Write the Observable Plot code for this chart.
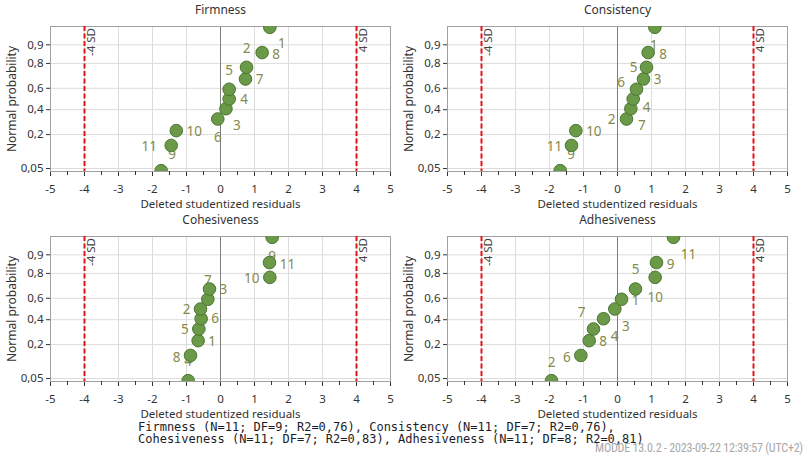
<!DOCTYPE html>
<html>
<head>
<meta charset="utf-8">
<script src="https://cdn.jsdelivr.net/npm/d3@7"></script>
<script src="https://cdn.jsdelivr.net/npm/@observablehq/plot@0.6"></script>
<style>
  html, body { margin: 0; padding: 0; background: #fff; }
  #root { position: relative; width: 807px; height: 462px; overflow: hidden; background: #fff; }
  .panel { position: absolute; }
  #caption { position: absolute; left: 138px; top: 421px; font-family: "DejaVu Sans Mono", "Liberation Mono", monospace; font-size: 12px; line-height: 12px; color: #1c1c28; white-space: pre; }
  #footer { position: absolute; right: 4px; top: 441px; font-family: "Liberation Sans Narrow", "Roboto Condensed", "Liberation Sans", sans-serif; font-size: 12px; color: #a8a8a8; white-space: pre; letter-spacing: -0.2px; }
</style>
</head>
<body>
<div id="root"></div>
<script>
// ---------- data ----------
const panelNames = ["Firmness", "Consistency", "Cohesiveness", "Adhesiveness"];
const panelN  = [11, 11, 11, 11];
const panelDF = [9, 7, 7, 8];
const panelR2 = ["0,76", "0,76", "0,83", "0,81"];

// normal-probability plotting positions (ranks 1..11, ascending)
const probs = [0.045, 0.136, 0.227, 0.318, 0.409, 0.5, 0.591, 0.682, 0.773, 0.864, 0.955];

// deleted studentized residuals, in rank order
const firmnessRes     = [-1.745, -1.45, -1.30, -0.08, 0.16, 0.255, 0.255, 0.735, 0.765, 1.225, 1.45];
const consistencyRes  = [-1.686, -1.353, -1.225, 0.265, 0.392, 0.461, 0.559, 0.765, 0.853, 0.902, 1.098];
const cohesivenessRes = [-0.951, -0.882, -0.657, -0.637, -0.569, -0.588, -0.373, -0.324, 1.451, 1.441, 1.520];
const adhesivenessRes = [-1.941, -1.078, -0.833, -0.706, -0.412, -0.078, 0.118, 0.529, 1.108, 1.147, 1.647];

// run-number labels, in rank order
const firmnessLab     = ["9", "11", "10", "6", "3", "4", "5", "7", "2", "8", "1"];
const consistencyLab  = ["9", "11", "10", "2", "7", "6", "4", "3", "5", "8", "1"];
const cohesivenessLab = ["4", "8", "1", "5", "6", "2", "7", "3", "10", "11", "9"];
const adhesivenessLab = ["2", "6", "8", "7", "4", "3", "1", "5", "10", "9", "11"];

// label placement offsets (pixels from point centre)
const firmnessOff     = [[11,-16],[-22,1],[18,1],[0,19],[11,17],[15,1],[0,-19],[14,1],[0,-19],[14,2],[12,16]];
const consistencyOff  = [[11,-16],[-17,1],[18,1],[-15,1],[11,17],[-12,-16],[10,18],[14,1],[-13,0],[15,2],[-1,18]];
const cohesivenessOff = [[0,-19],[-14,2],[14,1],[-14,1],[14,0],[-14,1],[0,-19],[14,1],[-18,1],[18,2],[0,19]];
const adhesivenessOff = [[0,-18],[-14,2],[14,1],[-12,-16],[11,18],[11,18],[14,1],[0,-19],[0,20],[14,2],[15,17]];

const xTickValues = [-5, -4, -3, -2, -1, 0, 1, 2, 3, 4, 5];
const xMinorTicks = [-4.5, -3.5, -2.5, -1.5, -0.5, 0.5, 1.5, 2.5, 3.5, 4.5];
const yTickProbs  = [0.05, 0.2, 0.4, 0.6, 0.8, 0.9];
const yTickLabels = ["0,05", "0,2", "0,4", "0,6", "0,8", "0,9"];
const sdLimits = [-4, 4];
const sdLabels = ["-4 SD", "4 SD"];

const footerText = "MODDE 13.0.2 - 2023-09-22 12:39:57 (UTC+2)";

// ---------- inverse normal CDF (probability scale) ----------
function probit(p) {
  const a = [-3.969683028665376e+01, 2.209460984245205e+02, -2.759285104469687e+02, 1.383577518672690e+02, -3.066479806614716e+01, 2.506628277459239e+00];
  const b = [-5.447609879822406e+01, 1.615858368580409e+02, -1.556989798598866e+02, 6.680131188771972e+01, -1.328068155288572e+01];
  const c = [-7.784894002430293e-03, -3.223964580411365e-01, -2.400758277161838e+00, -2.549671348451685e+00, 4.374664141464968e+00, 2.938163982698783e+00];
  const d = [7.784695709041462e-03, 3.224671290700398e-01, 2.445134137142996e+00, 3.754408661907416e+00];
  const pl = 0.02425, ph = 1 - pl;
  let q, r;
  if (p < pl) {
    q = Math.sqrt(-2 * Math.log(p));
    return (((((c[0]*q+c[1])*q+c[2])*q+c[3])*q+c[4])*q+c[5]) / ((((d[0]*q+d[1])*q+d[2])*q+d[3])*q+1);
  } else if (p <= ph) {
    q = p - 0.5; r = q * q;
    return (((((a[0]*r+a[1])*r+a[2])*r+a[3])*r+a[4])*r+a[5])*q / (((((b[0]*r+b[1])*r+b[2])*r+b[3])*r+b[4])*r+1);
  } else {
    q = Math.sqrt(-2 * Math.log(1 - p));
    return -(((((c[0]*q+c[1])*q+c[2])*q+c[3])*q+c[4])*q+c[5]) / ((((d[0]*q+d[1])*q+d[2])*q+d[3])*q+1);
  }
}

const yTickZ = yTickProbs.map(probit);
const yDomain = [-1.715, 1.715];
const PLOT_H = 210, M_TOP = 26, M_BOTTOM = 39;
const unitsPerPx = (yDomain[1] - yDomain[0]) / (PLOT_H - M_TOP - M_BOTTOM);

const FONT = "'Segoe UI', 'Noto Sans', 'Open Sans', sans-serif";

function makePanel(title, res, labs, offs) {
  const pts = res.map((r, i) => ({r, z: probit(probs[i]), label: labs[i], dx: offs[i][0], dy: offs[i][1]}));
  const labelMarks = pts.map(p => Plot.text([p], {
    x: "r", y: "z", text: "label", dx: p.dx, dy: p.dy,
    fill: "#868a4c", fontSize: 13.5, textAnchor: "middle", lineAnchor: "middle"
  }));
  return Plot.plot({
    width: 400, height: PLOT_H,
    marginLeft: 50, marginRight: 10, marginTop: M_TOP, marginBottom: M_BOTTOM,
    style: {fontFamily: FONT, fontSize: "11.5px", color: "#333", background: "transparent", overflow: "visible"},
    x: {domain: [-5, 5], ticks: xTickValues, tickSize: 5, tickPadding: 8,
        tickFormat: d => String(d), label: null},
    y: {domain: yDomain, ticks: yTickZ, tickSize: 4, tickPadding: 3,
        tickFormat: z => { const i = yTickZ.findIndex(t => Math.abs(t - z) < 1e-9); return i >= 0 ? yTickLabels[i] : ""; },
        label: null},
    marks: [
      Plot.ruleX(xTickValues, {stroke: "#dcdcdc", strokeWidth: 1}),
      Plot.ruleY(yTickZ, {stroke: "#dcdcdc", strokeWidth: 1}),
      Plot.ruleX([0], {stroke: "#7d7d7d", strokeWidth: 1}),
      Plot.frame({stroke: "#a0a0a0"}),
      // minor half-unit ticks below the x axis
      Plot.ruleX(xMinorTicks, {x: d => d, y1: yDomain[0], y2: yDomain[0] - 4 * unitsPerPx, stroke: "#333", strokeWidth: 1}),
      Plot.ruleX(sdLimits, {stroke: "#e8121a", strokeWidth: 2, strokeDasharray: "5,2.5"}),
      Plot.text(sdLimits, {x: d => d, text: (d, i) => sdLabels[i], frameAnchor: "top", rotate: -90,
        textAnchor: "end", lineAnchor: "middle", dx: 7, dy: 1.5, fill: "#444", fontSize: 11.5}),
      ...labelMarks,
      Plot.dot(pts, {x: "r", y: "z", r: 6.3, fill: "#6a9a47", stroke: "#4b7632", strokeWidth: 1, fillOpacity: 1, clip: true}),
      Plot.text([title], {frameAnchor: "top", dy: -16, lineAnchor: "middle", text: d => d, fill: "#333", fontSize: 12}),
      Plot.text(["Deleted studentized residuals"], {frameAnchor: "bottom", dy: 32.5, lineAnchor: "middle", text: d => d, fill: "#333", fontSize: 11.5}),
      Plot.text(["Normal probability"], {frameAnchor: "left", dx: -38, rotate: -90, textAnchor: "middle", lineAnchor: "middle", text: d => d, fill: "#333", fontSize: 12})
    ]
  });
}

const root = document.getElementById("root");
const specs = [
  [firmnessRes, firmnessLab, firmnessOff, 0, 0],
  [consistencyRes, consistencyLab, consistencyOff, 397, 0],
  [cohesivenessRes, cohesivenessLab, cohesivenessOff, 0, 210],
  [adhesivenessRes, adhesivenessLab, adhesivenessOff, 397, 210]
];
specs.forEach(([res, labs, offs, left, top], i) => {
  const div = document.createElement("div");
  div.className = "panel";
  div.style.left = left + "px";
  div.style.top = top + "px";
  div.appendChild(makePanel(panelNames[i], res, labs, offs));
  root.appendChild(div);
});

const parts = panelNames.map((n, i) => `${n} (N=${panelN[i]}; DF=${panelDF[i]}; R2=${panelR2[i]})`);
const cap = document.createElement("div");
cap.id = "caption";
cap.textContent = parts[0] + ", " + parts[1] + ",\n" + parts[2] + ", " + parts[3];
root.appendChild(cap);

const foot = document.createElement("div");
foot.id = "footer";
foot.textContent = footerText;
root.appendChild(foot);
</script>
</body>
</html>
